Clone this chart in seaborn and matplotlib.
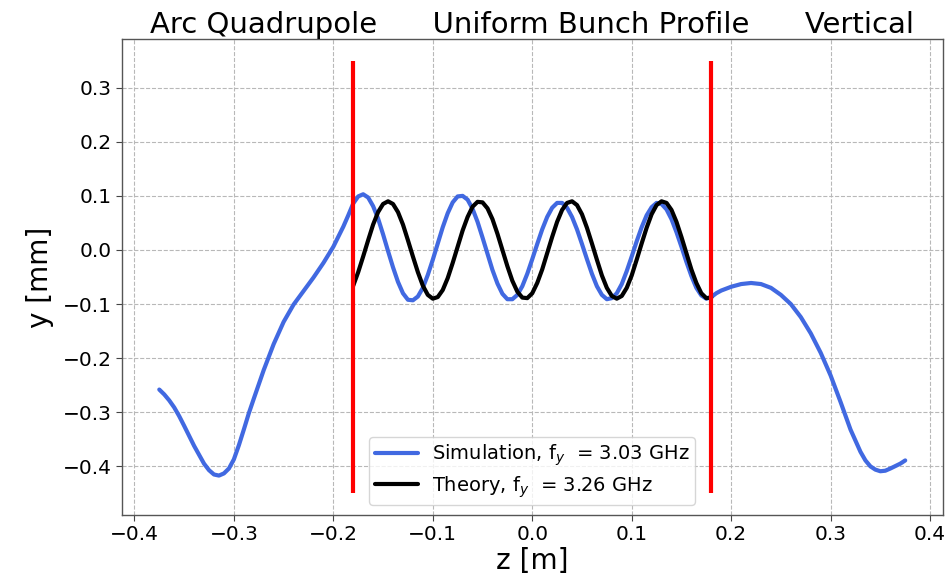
import numpy as np
import pandas as pd
import matplotlib
matplotlib.use("Agg")
import matplotlib.pyplot as plt
import seaborn as sns

# ---- data ----
sim_z = [-0.375, -0.370, -0.365, -0.360, -0.355, -0.350, -0.340, -0.330, -0.325, -0.320,
         -0.315, -0.310, -0.305, -0.300, -0.295, -0.290, -0.285, -0.280, -0.270, -0.260,
         -0.250, -0.240, -0.230, -0.220, -0.210, -0.200, -0.190, -0.185,
         -0.180, -0.175, -0.170, -0.165, -0.160, -0.155, -0.150, -0.145, -0.140, -0.135,
         -0.130, -0.125, -0.120, -0.115, -0.110, -0.105, -0.100, -0.095, -0.090, -0.085,
         -0.080, -0.075, -0.070, -0.065, -0.060, -0.055, -0.050, -0.045, -0.040, -0.035,
         -0.030, -0.025, -0.020, -0.015, -0.010, -0.005, 0.000, 0.005, 0.010, 0.015,
         0.020, 0.025, 0.030, 0.035, 0.040, 0.045, 0.050, 0.055, 0.060, 0.065,
         0.070, 0.075, 0.080, 0.085, 0.090, 0.095, 0.100, 0.105, 0.110, 0.115,
         0.120, 0.125, 0.130, 0.135, 0.140, 0.145, 0.150, 0.155, 0.160, 0.165,
         0.170, 0.175, 0.180,
         0.185, 0.190, 0.200, 0.210, 0.220, 0.230, 0.240, 0.250, 0.260, 0.270,
         0.280, 0.290, 0.300, 0.310, 0.320, 0.330, 0.335, 0.340, 0.345, 0.350,
         0.355, 0.360, 0.370, 0.375]
sim_y = [-0.258, -0.267, -0.278, -0.291, -0.307, -0.325, -0.362, -0.395, -0.407, -0.415,
         -0.417, -0.413, -0.404, -0.387, -0.361, -0.332, -0.302, -0.275, -0.222, -0.174,
         -0.133, -0.101, -0.076, -0.051, -0.024, 0.006, 0.043, 0.064,
         0.086, 0.099, 0.103, 0.097, 0.081, 0.058, 0.029, -0.002, -0.032, -0.059,
         -0.080, -0.092, -0.093, -0.086, -0.070, -0.046, -0.018, 0.012, 0.042, 0.068,
         0.088, 0.099, 0.100, 0.093, 0.076, 0.052, 0.023, -0.007, -0.037, -0.062,
         -0.081, -0.091, -0.091, -0.083, -0.067, -0.044, -0.017, 0.011, 0.038, 0.061,
         0.078, 0.087, 0.087, 0.078, 0.061, 0.038, 0.011, -0.017, -0.044, -0.067,
         -0.083, -0.091, -0.089, -0.080, -0.063, -0.039, -0.012, 0.016, 0.042, 0.064,
         0.079, 0.087, 0.085, 0.075, 0.057, 0.033, 0.006, -0.022, -0.048, -0.070,
         -0.084, -0.090, -0.087,
         -0.080, -0.075, -0.068, -0.063, -0.061, -0.063, -0.070, -0.083, -0.100, -0.124,
         -0.154, -0.190, -0.232, -0.281, -0.332, -0.373, -0.389, -0.400, -0.406, -0.409,
         -0.408, -0.404, -0.395, -0.389]

th_z = [-0.180, -0.175, -0.170, -0.165, -0.160, -0.155, -0.150, -0.145, -0.140, -0.135,
        -0.130, -0.125, -0.120, -0.115, -0.110, -0.105, -0.100, -0.095, -0.090, -0.085,
        -0.080, -0.075, -0.070, -0.065, -0.060, -0.055, -0.050, -0.045, -0.040, -0.035,
        -0.030, -0.025, -0.020, -0.015, -0.010, -0.005, 0.000, 0.005, 0.010, 0.015,
        0.020, 0.025, 0.030, 0.035, 0.040, 0.045, 0.050, 0.055, 0.060, 0.065,
        0.070, 0.075, 0.080, 0.085, 0.090, 0.095, 0.100, 0.105, 0.110, 0.115,
        0.120, 0.125, 0.130, 0.135, 0.140, 0.145, 0.150, 0.155, 0.160, 0.165,
        0.170, 0.175, 0.180]
th_y = [-0.066, -0.041, -0.012, 0.018, 0.047, 0.070, 0.085, 0.090, 0.085, 0.070,
        0.047, 0.018, -0.012, -0.041, -0.066, -0.083, -0.090, -0.087, -0.074, -0.052,
        -0.024, 0.006, 0.036, 0.061, 0.080, 0.089, 0.088, 0.077, 0.057, 0.030,
        0.000, -0.030, -0.057, -0.077, -0.088, -0.089, -0.080, -0.061, -0.036, -0.006,
        0.024, 0.052, 0.074, 0.087, 0.090, 0.083, 0.066, 0.041, 0.012, -0.018,
        -0.047, -0.070, -0.085, -0.090, -0.085, -0.070, -0.047, -0.018, 0.012, 0.041,
        0.066, 0.083, 0.090, 0.087, 0.074, 0.052, 0.024, -0.006, -0.036, -0.061,
        -0.080, -0.089, -0.088]

bound_z = [-0.18, 0.18]
bound_y = [-0.45, 0.35]

sim_label = r"Simulation, f$_y$  = 3.03 GHz"
th_label = r"Theory, f$_y$  = 3.26 GHz"
title = "Arc Quadrupole      Uniform Bunch Profile      Vertical"

# ---- plotting ----
sns.set_style("ticks")
plt.rcParams["font.family"] = ["DejaVu Sans"]
plt.rcParams["text.color"] = "black"
plt.rcParams["axes.labelcolor"] = "black"
plt.rcParams["xtick.color"] = "black"
plt.rcParams["ytick.color"] = "black"

fig = plt.figure(figsize=(9.53, 5.82), dpi=100)
ax = fig.add_axes([0.128, 0.115, 0.861, 0.818])

sim_df = pd.DataFrame({"z": sim_z, "y": sim_y})
th_df = pd.DataFrame({"z": th_z, "y": th_y})

sns.lineplot(data=sim_df, x="z", y="y", ax=ax, color="#4169E1", lw=3,
             sort=False, estimator=None, label=sim_label)
sns.lineplot(data=th_df, x="z", y="y", ax=ax, color="black", lw=3,
             sort=False, estimator=None, label=th_label)
for bz in bound_z:
    ax.plot([bz, bz], bound_y, color="red", lw=3, solid_capstyle="butt")

ax.set_xticks([-0.4, -0.3, -0.2, -0.1, 0.0, 0.1, 0.2, 0.3, 0.4])
ax.set_yticks([-0.4, -0.3, -0.2, -0.1, 0.0, 0.1, 0.2, 0.3])
ax.tick_params(labelsize=14.5, length=4, color="#444444")
ax.grid(True, ls="--", color="#b8b8b8", lw=0.8)
for s in ax.spines.values():
    s.set_color("#555555")
    s.set_linewidth(1.0)

ax.set_xlabel("z [m]", fontsize=20, labelpad=2)
ax.set_ylabel("y [mm]", fontsize=20, labelpad=6)
ax.set_title(title, fontsize=21, pad=2)

ax.legend(loc="lower center", fontsize=14, handlelength=2.2, handletextpad=0.7,
          borderpad=0.3, labelspacing=0.3, borderaxespad=0.5,
          framealpha=0.8, edgecolor="#cccccc")

fig.savefig("out.png", dpi=100)
